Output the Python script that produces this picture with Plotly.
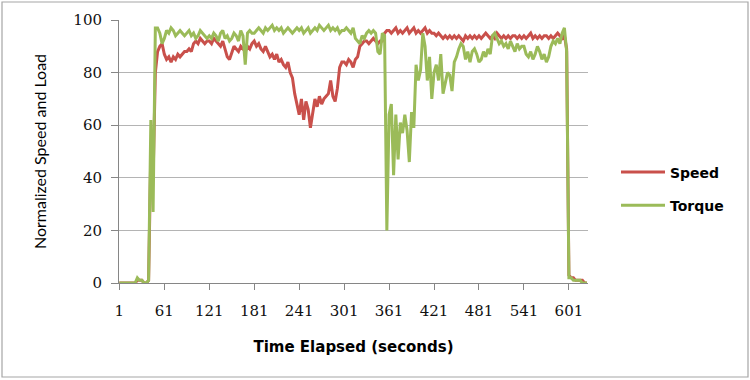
import plotly.graph_objects as go

# time samples (seconds), every 3 s
time_s = list(range(1, 626, 3))

speed = [
    0, 0, 0, 0, 0, 0, 0, 0, 1, 1,
    1, 0, 0, 1, 50, 40, 80, 88, 90, 91,
    87, 85, 86, 84, 86, 85, 87, 86, 87, 88,
    88, 89, 88, 91, 92, 91, 93, 92, 91, 92,
    92, 91, 93, 92, 91, 90, 92, 89, 86, 85,
    88, 90, 89, 88, 90, 89, 88, 90, 89, 91,
    92, 90, 91, 89, 88, 90, 88, 86, 87, 85,
    87, 84, 85, 83, 82, 84, 80, 78, 72, 68,
    64, 70, 62, 69, 66, 59, 64, 70, 67, 71,
    68, 70, 71, 72, 77, 71, 69, 74, 82, 84,
    84, 83, 85, 84, 82, 85, 86, 90, 91, 92,
    92, 91, 92, 93, 92, 91, 92, 92, 95, 96,
    96, 95, 96, 97, 95, 96, 95, 96, 97, 95,
    96, 97, 95, 96, 95, 96, 97, 95, 96, 95,
    95, 94, 95, 94, 93, 94, 93, 94, 93, 94,
    93, 94, 93, 92, 94, 93, 94, 93, 94, 93,
    94, 93, 94, 95, 94, 93, 94, 93, 95, 94,
    93, 94, 93, 94, 93, 94, 94, 93, 94, 93,
    94, 93, 94, 95, 93, 94, 93, 94, 93, 94,
    94, 93, 94, 93, 94, 95, 94, 93, 94, 89,
    3, 2, 2, 1, 1, 1, 1, 0, 0,
]

torque = [
    0, 0, 0, 0, 0, 0, 0, 0, 2, 1,
    1, 0, 0, 1, 62, 27, 97, 97, 95, 91,
    93, 96, 95, 97, 96, 94, 95, 96, 95, 94,
    95, 96, 94, 95, 93, 94, 96, 95, 94, 93,
    94, 93, 95, 94, 92, 95, 96, 93, 94, 92,
    93, 95, 94, 92, 96, 94, 83, 95, 96, 95,
    95, 96, 97, 96, 95, 97, 96, 97, 98, 96,
    97, 96, 97, 95, 96, 97, 96, 95, 96, 97,
    96, 97, 95, 96, 97, 95, 96, 97, 96, 98,
    97, 96, 97, 98, 96, 97, 96, 97, 95, 96,
    96, 97, 96, 95, 97, 93, 92, 91, 94, 93,
    95, 96, 95, 96, 95, 88, 87, 95, 94, 20,
    64, 68, 41, 64, 47, 61, 57, 64, 58, 46,
    65, 59, 83, 77, 81, 95, 90, 77, 86, 70,
    80, 83, 77, 87, 72, 76, 80, 79, 73, 84,
    86, 89, 91, 90, 85, 88, 84, 88, 89, 87,
    84, 85, 88, 86, 89, 87, 94, 95, 93, 91,
    92, 90, 91, 89, 92, 90, 88, 91, 89, 90,
    90, 87, 86, 88, 85, 87, 90, 88, 85, 87,
    84, 86, 90, 92, 91, 93, 91, 95, 97, 88,
    2, 2, 1, 1, 1, 1, 0, 0, 0,
]

x_ticks = [1, 61, 121, 181, 241, 301, 361, 421, 481, 541, 601]
y_ticks = [0, 20, 40, 60, 80, 100]

fig = go.Figure()
fig.add_trace(go.Scatter(x=time_s, y=speed, mode="lines", name="Speed",
                         legendgroup="a",
                         line=dict(color="#C9504B", width=3)))
fig.add_trace(go.Scatter(x=time_s, y=torque, mode="lines", name="Torque",
                         legendgroup="b",
                         line=dict(color="#9BBB59", width=3)))

W, H = 750, 380
L, R, T, B = 119, 162, 20, 97
pw, ph = W - L - R, H - T - B

def px(xp):
    return (xp - L) / pw

def py(yp):
    return (H - B - yp) / ph

fig.update_layout(
    width=W, height=H,
    margin=dict(l=L, r=R, t=T, b=B, autoexpand=False),
    paper_bgcolor="white", plot_bgcolor="white",
    font=dict(family="DejaVu Sans, sans-serif", color="#000000"),
    showlegend=True,
    legend=dict(x=px(616), y=py(189), xanchor="left", yanchor="middle",
                tracegroupgap=12, itemwidth=44,
                font=dict(family="DejaVu Sans", size=14, color="#000000", weight="bold"),
                bgcolor="rgba(0,0,0,0)"),
    shapes=[dict(type="rect", xref="paper", yref="paper",
                 x0=px(2), x1=px(748), y0=py(377), y1=py(2),
                 line=dict(color="#A6A6A6", width=1.2), fillcolor="rgba(0,0,0,0)",
                 layer="below")],
)
fig.update_xaxes(
    range=[0.5, 626.5], tickmode="array", tickvals=x_ticks,
    ticktext=[str(v) for v in x_ticks],
    showgrid=False, zeroline=False,
    showline=True, linecolor="#868686", linewidth=1,
    ticks="outside", ticklen=6, tickcolor="#868686",
    ticklabelstandoff=8,
    tickfont=dict(family="DejaVu Serif", size=15, color="#111111"),
    title=dict(text="Time Elapsed (seconds)", standoff=22,
               font=dict(family="DejaVu Sans", size=15, color="#000000", weight="bold")),
)
fig.update_yaxes(
    range=[0, 100], tickmode="array", tickvals=y_ticks,
    showgrid=True, gridcolor="#B4B4B4", gridwidth=1, zeroline=False,
    showline=True, linecolor="#868686", linewidth=1,
    ticks="outside", ticklen=7, tickcolor="#868686",
    ticklabelstandoff=6,
    tickfont=dict(family="DejaVu Serif", size=15, color="#111111"),
    title=dict(text="Normalized Speed and Load", standoff=22,
               font=dict(family="Lato", size=16, color="#000000")),
)

fig.write_html("out.html", config={"displayModeBar": False},
               post_script="document.body.style.margin='0';")
